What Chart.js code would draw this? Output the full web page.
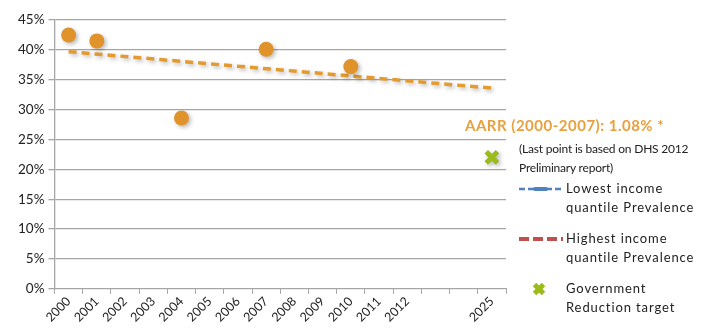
<!DOCTYPE html>
<html>
<head>
<meta charset="utf-8">
<script src="https://cdn.jsdelivr.net/npm/chart.js@4"></script>
<style>
  body { margin: 0; background: #fff; }
  #wrap { position: relative; width: 715px; height: 333px; font-family: Lato, "Open Sans", sans-serif; }
  #chart { position: absolute; left: 0; top: 0; }
  .t { position: absolute; font-size: 13px; color: #222; white-space: nowrap; letter-spacing: 0.9px; line-height: 19px; }
  .aarr { position: absolute; left: 465px; top: 116px; font-size: 15px; font-weight: bold; color: #E9A03C; white-space: nowrap; letter-spacing: 0.5px; }
  .note { position: absolute; left: 519px; top: 139px; font-size: 12px; color: #222; line-height: 19px; letter-spacing: -0.2px; }
  svg { position: absolute; }
</style>
</head>
<body>
<div id="wrap">
  <canvas id="chart" width="715" height="333"></canvas>
  <div class="aarr">AARR (2000-2007): 1.08% *</div>
  <div class="note">(Last point is based on DHS 2012<br>Preliminary report)</div>

  <svg style="left:518px;top:184px" width="46" height="10">
    <line x1="1" y1="5" x2="45" y2="5" stroke="#4F81BD" stroke-width="2.5" stroke-dasharray="6,3"/>
    <line x1="17" y1="5" x2="28" y2="5" stroke="#4F81BD" stroke-width="4" stroke-linecap="round"/>
  </svg>
  <div class="t" style="left:566px;top:179px">Lowest income<br>quantile Prevalence</div>

  <svg style="left:518px;top:234px" width="46" height="10">
    <line x1="1" y1="5" x2="45" y2="5" stroke="#C0504D" stroke-width="4" stroke-dasharray="10,4"/>
  </svg>
  <div class="t" style="left:566px;top:229px">Highest income<br>quantile Prevalence</div>

  <svg style="left:531px;top:281px" width="16" height="16">
    <line x1="3.5" y1="3.5" x2="12.5" y2="12.5" stroke="#9BBB1A" stroke-width="5"/>
    <line x1="12.5" y1="3.5" x2="3.5" y2="12.5" stroke="#9BBB1A" stroke-width="5"/>
  </svg>
  <div class="t" style="left:566px;top:279px">Government<br>Reduction target</div>
</div>
<script>
// категории оси X (два пустых слота между 2012 и 2025)
const years = ['2000', '2001', '2002', '2003', '2004', '2005', '2006', '2007', '2008', '2009', '2010', '2011', '2012', '', ' ', '2025'];

// распространённость, %
const prevalence = [42.5, 41.5, null, null, 28.6, null, null, 40.1, null, null, 37.2, null, null, null, null, null];

// линейный тренд (только концы)
const trend = [39.7, null, null, null, null, null, null, null, null, null, null, null, null, null, null, 33.6];

// цель правительства
const target = [null, null, null, null, null, null, null, null, null, null, null, null, null, null, null, 22.0];

const yTicks = [0, 5, 10, 15, 20, 25, 30, 35, 40, 45];

const GRID = '#A6A6A6';

// мягкая тень как в Excel
const shadowPlugin = {
    id: 'shadow',
    beforeDatasetDraw(chart, args) {
        const ctx = chart.ctx;
        ctx.save();
        ctx.shadowColor = 'rgba(0,0,0,0.28)';
        ctx.shadowBlur = 4;
        ctx.shadowOffsetX = 2;
        ctx.shadowOffsetY = 2;
    },
    afterDatasetDraw(chart) {
        chart.ctx.restore();
    }
};

new Chart(document.getElementById('chart'), {
    type: 'line',
    data: {
        labels: years,
        datasets: [
            {
                label: 'Trend',
                data: trend,
                spanGaps: true,
                borderColor: '#E39A2E',
                borderWidth: 3.5,
                borderDash: [8, 5],
                pointRadius: 0,
                order: 2
            },
            {
                label: 'Prevalence',
                data: prevalence,
                showLine: false,
                pointRadius: 7.5,
                pointBackgroundColor: '#E0932A',
                pointBorderColor: '#E0932A',
                pointBorderWidth: 0,
                order: 1
            },
            {
                label: 'Government Reduction target',
                data: target,
                showLine: false,
                pointStyle: 'crossRot',
                pointRadius: 8,
                pointBorderColor: '#9BBB1A',
                pointBorderWidth: 5,
                order: 0
            }
        ]
    },
    plugins: [shadowPlugin],
    options: {
        responsive: false,
        animation: false,
        layout: { padding: { left: 14, top: 20, right: 209, bottom: 8 } },
        plugins: {
            legend: { display: false },
            tooltip: { enabled: false }
        },
        scales: {
            x: {
                offset: true,
                grid: {
                    offset: true,
                    drawOnChartArea: false,
                    drawTicks: true,
                    tickLength: 5,
                    color: GRID
                },
                border: { color: GRID, width: 1 },
                ticks: {
                    autoSkip: false,
                    minRotation: 45,
                    maxRotation: 45,
                    padding: 0,
                    color: '#222',
                    font: { family: 'Lato', size: 12.5 }
                }
            },
            y: {
                min: 0,
                max: 45,
                afterBuildTicks(scale) {
                    scale.ticks = yTicks.map(v => ({ value: v }));
                },
                grid: {
                    color: GRID,
                    lineWidth: 1.3,
                    tickLength: 6
                },
                border: { color: GRID, width: 1.3 },
                ticks: {
                    padding: 4,
                    color: '#222',
                    font: { family: 'Lato', size: 13.5 },
                    callback: v => v + '%'
                }
            }
        }
    }
});
</script>
</body>
</html>
